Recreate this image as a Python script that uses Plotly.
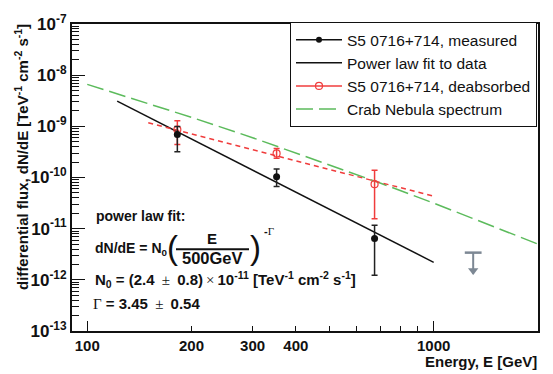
import plotly.graph_objects as go

# ---------------- data ----------------
E_meas = [182, 352, 675]
F_meas = [6.95e-10, 1.035e-10, 6.4e-12]
F_meas_hi = [9.9e-10, 1.47e-10, 1.17e-11]
F_meas_lo = [3.17e-10, 6.7e-11, 1.23e-12]

E_deab = [182, 352, 675]
F_deab = [8.65e-10, 2.95e-10, 7.4e-11]
F_deab_hi = [1.28e-9, 3.7e-10, 1.39e-10]
F_deab_lo = [4.4e-10, 2.37e-10, 1.57e-11]

E_fit = [122, 1000]
F_fit = [3.1e-9, 2.2e-12]

E_deab_fit = [150, 1000]
F_deab_fit = [1.17e-9, 4.3e-11]

E_crab = [100, 200, 300, 500, 700, 1000, 1500, 2000]
F_crab = [6.6e-9, 1.5e-9, 6.0e-10, 1.79e-10, 7.8e-11, 3.16e-11, 1.09e-11, 5.0e-12]

E_ul = [1300]
F_ul = [3.4e-12]

x_tick_vals = [100, 200, 300, 400, 1000, 2000]
x_tick_text = ["100", "200", "300", "400", "1000", "2000"]
y_tick_vals = [1e-13, 1e-12, 1e-11, 1e-10, 1e-9, 1e-8, 1e-7]
y_tick_text = ["10<sup>-13</sup>", "10<sup>-12</sup>", "10<sup>-11</sup>", "10<sup>-10</sup>",
               "10<sup>-9</sup>", "10<sup>-8</sup>", "10<sup>-7</sup>"]

# ---------------- style ----------------
FONT = "Liberation Sans, Arial, sans-serif"
BLACK = "#111111"
RED = "#f03c3c"
GREEN = "#5cbb5c"
GRAY = "#7d8894"

L, R, T, B = 72, 15, 14, 43
W, H = 553, 374
PW, PH = W - L - R, H - T - B


def px(x):
    return (x - L) / PW


def py(y):
    return (H - B - y) / PH


fig = go.Figure()

# legend-only entries
fig.add_trace(go.Scatter(x=[None], y=[None], mode="lines+markers", name="S5 0716+714, measured",
                         line=dict(color=BLACK, width=1.5),
                         marker=dict(symbol="circle", size=6, color=BLACK)))
fig.add_trace(go.Scatter(x=E_fit, y=F_fit, mode="lines", name="Power law fit to data",
                         line=dict(color=BLACK, width=1.5)))
fig.add_trace(go.Scatter(x=[None], y=[None], mode="lines+markers", name="S5 0716+714, deabsorbed",
                         line=dict(color=RED, width=1.5),
                         marker=dict(symbol="circle-open", size=7, color=RED, line=dict(width=1.2))))
fig.add_trace(go.Scatter(x=E_crab, y=F_crab, mode="lines", name="Crab Nebula spectrum",
                         line=dict(color=GREEN, width=1.5, dash="17px,6px")))

# deabsorbed fit (dashed red)
fig.add_trace(go.Scatter(x=E_deab_fit, y=F_deab_fit, mode="lines", showlegend=False,
                         line=dict(color=RED, width=1.5, dash="5px,4px")))

# deabsorbed points
fig.add_trace(go.Scatter(
    x=E_deab, y=F_deab, mode="markers", showlegend=False,
    marker=dict(symbol="circle-open", size=7, color=RED, line=dict(width=1.2)),
    error_y=dict(type="data", symmetric=False,
                 array=[h - v for h, v in zip(F_deab_hi, F_deab)],
                 arrayminus=[v - l for v, l in zip(F_deab, F_deab_lo)],
                 color=RED, thickness=1.5, width=3)))

# measured points
fig.add_trace(go.Scatter(
    x=E_meas, y=F_meas, mode="markers", showlegend=False,
    marker=dict(symbol="circle", size=7, color=BLACK),
    error_y=dict(type="data", symmetric=False,
                 array=[h - v for h, v in zip(F_meas_hi, F_meas)],
                 arrayminus=[v - l for v, l in zip(F_meas, F_meas_lo)],
                 color="#222222", thickness=1.5, width=3)))

# upper limit
ARROW = 10 ** 0.42
fig.add_trace(go.Scatter(x=[E_ul[0], E_ul[0]], y=[F_ul[0], F_ul[0] / ARROW], mode="lines",
                         showlegend=False, line=dict(color=GRAY, width=2)))
fig.add_trace(go.Scatter(x=E_ul, y=F_ul, mode="markers", showlegend=False,
                         marker=dict(symbol="line-ew", size=12, line=dict(color=GRAY, width=2.5))))
fig.add_trace(go.Scatter(x=E_ul, y=[F_ul[0] / ARROW * 1.18], mode="markers", showlegend=False,
                         marker=dict(symbol="triangle-down", size=9, color=GRAY)))

# invisible trace to show the long major x ticks
fig.add_trace(go.Scatter(x=[None], y=[None], xaxis="x2", showlegend=False, hoverinfo="skip"))

fig.update_layout(
    width=W, height=H,
    margin=dict(l=L, r=R, t=T, b=B),
    paper_bgcolor="white", plot_bgcolor="white",
    font=dict(family=FONT, size=15, color=BLACK),
    showlegend=True,
    legend=dict(x=px(290), y=py(12), xanchor="left", yanchor="top",
                bgcolor="white", bordercolor=BLACK, borderwidth=1,
                font=dict(family=FONT, size=15.5, color=BLACK),
                itemwidth=46, tracegroupgap=0),
    xaxis=dict(type="log", range=[1.956, 3.30103], showgrid=False, zeroline=False,
               showline=True, linecolor=BLACK, linewidth=2, mirror=True,
               tickmode="array", tickvals=x_tick_vals, ticktext=x_tick_text,
               ticks="inside", ticklen=5, tickwidth=1, tickcolor=BLACK,
               tickfont=dict(family=FONT, size=15, weight="bold", color=BLACK),
               minor=dict(tickmode="array", tickvals=[500, 600, 700, 800, 900],
                          ticks="inside", ticklen=5, tickwidth=1, tickcolor=BLACK, showgrid=False)),
    xaxis2=dict(type="log", range=[1.956, 3.30103], overlaying="x", side="bottom",
                showgrid=False, zeroline=False, showline=False,
                tickmode="array", tickvals=[100, 1000], showticklabels=False,
                ticks="inside", ticklen=10, tickwidth=1, tickcolor=BLACK),
    yaxis=dict(type="log", range=[-13, -7], showgrid=False, zeroline=False,
               showline=True, linecolor=BLACK, linewidth=2, mirror=True,
               tickmode="array", tickvals=y_tick_vals, ticktext=y_tick_text,
               ticks="inside", ticklen=13, tickwidth=1, tickcolor=BLACK,
               tickfont=dict(family=FONT, size=17, weight="bold", color=BLACK),
               minor=dict(tickmode="array",
                          tickvals=[m * 10 ** e for e in range(-13, -7) for m in range(2, 10)],
                          ticks="inside", ticklen=7, tickwidth=1, tickcolor=BLACK, showgrid=False)),
)

ann = []


def text(x, y, s, xanchor="left", size=14, bold=True, family=FONT, yanchor="middle", **kw):
    ann.append(dict(x=px(x), y=py(y), xref="paper", yref="paper", text=s, showarrow=False,
                    xanchor=xanchor, yanchor=yanchor, borderpad=0,
                    font=dict(family=family, size=size, color=BLACK,
                              weight="bold" if bold else "normal"), **kw))


PM = '<span style="font-family:Liberation Serif;font-weight:normal">\u2009±\u2009</span>'
TIMES = '<span style="font-family:Liberation Serif;font-weight:normal">\u2009×\u2009</span>'
GAM = '<span style="font-family:Liberation Serif;font-weight:normal">Γ</span>'

text(95, 212, "power law fit:", size=14)
text(94, 246, "dN/dE = N<sub>0</sub>")
text(172, 245, "(", xanchor="center", size=33, bold=False)
text(212, 236, "E", xanchor="center", size=15)
text(212, 256, "500GeV", xanchor="center", size=16.5)
text(255, 245, ")", xanchor="center", size=33, bold=False)
text(263, 228, "-" + GAM, size=11)
text(94, 278, "N<sub>0</sub> = (2.4 " + PM + " 0.8)" + TIMES +
     "10<sup>-11</sup> [TeV<sup>-1</sup> cm<sup>-2</sup> s<sup>-1</sup>]", size=15)
text(92, 303, GAM + " = 3.45 " + PM + " 0.54", size=15)

# axis titles
text(21, 13, "differential flux, dN/dE [TeV<sup>-1</sup> cm<sup>-2</sup> s<sup>-1</sup>]",
     xanchor="center", yanchor="top", textangle=-90, size=15)
text(538, 363, "Energy, E [GeV]", xanchor="right", size=15)

fig.update_layout(annotations=ann)
fig.add_shape(type="line", xref="paper", yref="paper", x0=px(176), x1=px(249), y0=py(246.5), y1=py(246.5),
              line=dict(color=BLACK, width=2))

fig.write_html("out.html")
